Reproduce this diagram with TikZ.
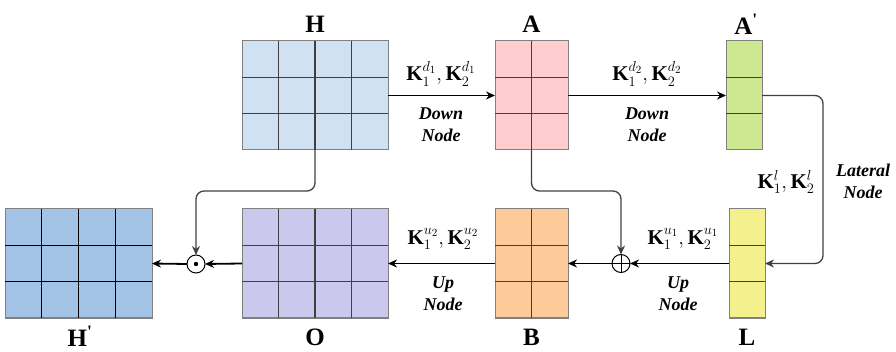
\documentclass[tikz,border=0pt]{standalone}
\usepackage{amsmath}
\usepackage{fontspec}
\setmainfont{Liberation Serif}[BoldFont={Liberation Serif Bold},ItalicFont={Liberation Serif Italic},BoldItalicFont={Liberation Serif Bold Italic}]
\usetikzlibrary{arrows.meta,calc}
\definecolor{cH}{HTML}{D0E1F3}
\definecolor{cA}{HTML}{FFCCCF}
\definecolor{cAp}{HTML}{CDE891}
\definecolor{cL}{HTML}{F3F08D}
\definecolor{cB}{HTML}{FCCB99}
\definecolor{cO}{HTML}{CAC8EC}
\definecolor{cHp}{HTML}{A3C3E6}
\definecolor{bord}{HTML}{808080}
\definecolor{gridc}{HTML}{404040}
\definecolor{fbc}{HTML}{404040}
\tikzset{
  blk/.style={draw=bord, line width=1pt, inner sep=0pt, outer sep=0pt, minimum height=109pt},
  gl/.style={draw=gridc, line width=1.3pt},
  mainarr/.style={draw=black, line width=1.8pt, -{Stealth[length=9pt,width=8pt]}},
  fbarr/.style={draw=fbc, line width=1.3pt, rounded corners=8pt, -{Stealth[length=9pt,width=8pt]}},
  blab/.style={font=\fontsize{25}{27}\selectfont\bfseries},
  klab/.style={font=\fontsize{21}{23}\selectfont},
  tlab/.style={font=\fontsize{18}{22}\selectfont\bfseries\itshape, align=center},
  opnode/.style={circle, draw=black, line width=1pt, minimum size=18pt, inner sep=0pt, outer sep=0pt},
}
\newcommand{\vlines}[2]{\foreach \f in {#2} {\draw[gl] ($(#1.north west)!\f!(#1.north east)$) -- ($(#1.south west)!\f!(#1.south east)$);}}
\newcommand{\hlines}[1]{\foreach \f in {0.3333,0.6667} {\draw[gl] ($(#1.north west)!\f!(#1.south west)$) -- ($(#1.north east)!\f!(#1.south east)$);}}
\begin{document}
\begin{tikzpicture}[x=1pt,y=-1pt]
\useasboundingbox (0,0) rectangle (896,352);
% blocks
\node[blk, fill=cH, minimum width=146pt] (H) at (315,95.5) {};
\node[blk, fill=cA, minimum width=73pt] (A) at (531.5,95.5) {};
\node[blk, fill=cAp, minimum width=36pt] (Ap) at (744,95.5) {};
\node[blk, fill=cL, minimum width=36pt] (L) at (747,263.5) {};
\node[blk, fill=cB, minimum width=73pt] (B) at (531.5,263.5) {};
\node[blk, fill=cO, minimum width=146pt] (O) at (315,263.5) {};
\node[blk, fill=cHp, minimum width=147pt] (Hp) at (78.5,263.5) {};
% grids
\vlines{H}{0.25,0.5,0.75}\hlines{H}
\vlines{A}{0.5}\hlines{A}
\hlines{Ap}
\hlines{L}
\vlines{B}{0.5}\hlines{B}
\vlines{O}{0.25,0.5,0.75}\hlines{O}
\begin{scope}[gl/.append style={draw=black}]
\vlines{Hp}{0.25,0.5,0.75}\hlines{Hp}
\end{scope}
% block labels
\node[blab] (lH) at (315,24) {H};
\node[blab] (lA) at (531.5,24) {A};
\node[blab] (lAp) at (746,24) {A\textsuperscript{\textquotesingle}};
\node[blab] (lHp) at (80,336) {H\textsuperscript{\textquotesingle}};
\node[blab] (lO) at (315,337) {O};
\node[blab] (lB) at (531.5,337) {B};
\node[blab] (lL) at (747,337) {L};
% operators
\node[opnode] (dot) at (196,264) {};
\fill (dot.center) circle (2.2pt);
\node[opnode] (plus) at (621,263.5) {};
\draw[line width=1pt] (plus.north) -- (plus.south) (plus.west) -- (plus.east);
% main arrows
\draw[mainarr] (H.east) -- (A.west);
\draw[mainarr] (A.east) -- (Ap.west);
\draw[mainarr] (L.west) -- (plus.east);
\draw[mainarr] (plus.west) -- (B.east);
\draw[mainarr] (B.west) -- (O.east);
\draw[mainarr] (O.west) -- (dot.east);
\draw[mainarr] (dot.west) -- (Hp.east);
% feedback connectors
\draw[fbarr] (H.south) -- ++(0,41) -| (dot.north);
\draw[fbarr] (A.south) -- ++(0,41) -| (plus.north);
\draw[fbarr] (Ap.east) -- ++(61,0) |- (L.east);
% edge labels
\node[klab] (k1) at (441,74) {$\mathbf{K}_1^{d_1},\mathbf{K}_2^{d_1}$};
\node[tlab] (t1) at (441,125) {Down\\Node};
\node[klab] (k2) at (647,74) {$\mathbf{K}_1^{d_2},\mathbf{K}_2^{d_2}$};
\node[tlab] (t2) at (647,125) {Down\\Node};
\node[klab] (k3) at (786,182) {$\mathbf{K}_1^{l},\mathbf{K}_2^{l}$};
\node[tlab] (t3) at (863,181) {Lateral\\Node};
\node[klab] (k4) at (443,239) {$\mathbf{K}_1^{u_2},\mathbf{K}_2^{u_2}$};
\node[tlab] (t4) at (443,294) {Up\\Node};
\node[klab] (k5) at (683,239) {$\mathbf{K}_1^{u_1},\mathbf{K}_2^{u_1}$};
\node[tlab] (t5) at (678,294) {Up\\Node};
\end{tikzpicture}
\end{document}
